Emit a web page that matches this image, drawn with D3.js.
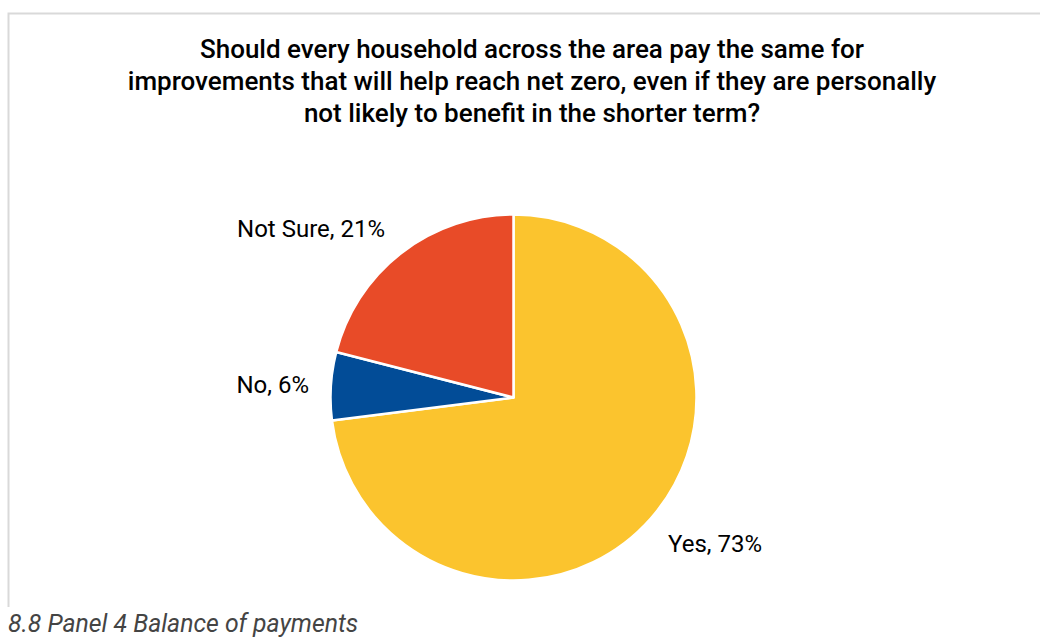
<!DOCTYPE html>
<html>
<head>
<meta charset="utf-8">
<script src="https://cdn.jsdelivr.net/npm/d3@7"></script>
<style>
  html, body { margin: 0; padding: 0; background: #fff; }
  svg { display: block; }
</style>
</head>
<body>
<svg id="chart" width="1040" height="643"></svg>
<script>
// Survey answers, in drawing order (clockwise from 12 o'clock)
const categories = ["Yes", "No", "Not Sure"];
const values = [73, 6, 21];
const colors = ["#FBC42E", "#024C97", "#E84B28"];
const titleLines = [
  "Should every household across the area pay the same for",
  "improvements that will help reach net zero, even if they are personally",
  "not likely to benefit in the shorter term?"
];
const caption = "8.8 Panel 4 Balance of payments";

const svg = d3.select("#chart");

// Frame around the chart area
svg.append("path")
  .attr("d", "M8.5,607 L8.5,13.5 L1040,13.5")
  .attr("fill", "none")
  .attr("stroke", "#d9d9d9")
  .attr("stroke-width", 2);

// Title
const title = svg.append("text")
  .attr("text-anchor", "middle")
  .attr("font-family", "Roboto, sans-serif")
  .attr("font-weight", 500)
  .attr("font-size", 26)
  .attr("fill", "#000");
titleLines.forEach((t, i) => {
  title.append("tspan")
    .attr("x", 532)
    .attr("y", 58 + i * 32)
    .text(t);
});

// Pie
const cx = 513.5, cy = 397.5, r = 183;
const pie = d3.pie().sort(null).value(d => d.value);
const data = categories.map((c, i) => ({ name: c, value: values[i], color: colors[i] }));
const arcs = pie(data);
const arc = d3.arc().innerRadius(0).outerRadius(r);

const g = svg.append("g").attr("transform", `translate(${cx},${cy})`);
g.selectAll("path")
  .data(arcs)
  .join("path")
  .attr("d", arc)
  .attr("fill", d => d.data.color)
  .attr("stroke", "#fff")
  .attr("stroke-width", 2.5)
  .attr("stroke-linejoin", "round");

// Data labels outside the slices
const labelAnchor = { "Yes": "start", "No": "end", "Not Sure": "end" };
const labelAt = { "Yes": [668, 552], "No": [309, 393], "Not Sure": [385, 237] };
g.selectAll("text.lbl")
  .data(arcs)
  .join("text")
  .attr("class", "lbl")
  .attr("x", d => labelAt[d.data.name][0] - cx)
  .attr("y", d => labelAt[d.data.name][1] - cy)
  .attr("text-anchor", d => labelAnchor[d.data.name])
  .attr("font-family", "Roboto, sans-serif")
  .attr("font-size", 24)
  .attr("fill", "#000")
  .text(d => `${d.data.name}, ${d.data.value}%`);

// Caption
svg.append("text")
  .attr("x", 8)
  .attr("y", 632)
  .attr("font-family", "Roboto, sans-serif")
  .attr("font-style", "italic")
  .attr("font-size", 24.8)
  .attr("fill", "#444")
  .text(caption);
</script>
</body>
</html>
